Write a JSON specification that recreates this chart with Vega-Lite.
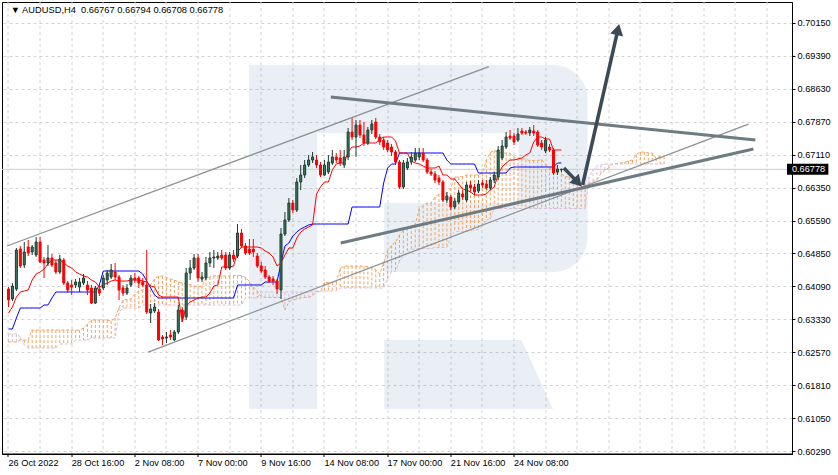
{
"$schema": "https://vega.github.io/schema/vega-lite/v6.json",
"width": 790, "height": 452,
"autosize": {"type": "none"},
"padding": {"left": 2, "top": 2, "right": 46, "bottom": 21},
"background": "white",
"config": {
 "font": "Liberation Sans",
 "view": {"stroke": "#000000", "strokeWidth": 1},
 "axis": {"domainColor": "#000000", "tickColor": "#000000", "labelColor": "#000000", "labelFont": "Liberation Sans", "labelFontSize": 9.2, "gridColor": "#d4d4d4", "gridDash": [3,3], "gridWidth": 1, "labelOverlap": false}
},
"datasets": {
"caption": [{"label": "▼ AUDUSD,H4\u00a0 0.66767 0.66794 0.66708 0.66778"}],
"logo": [
 {"part":"stem","x1":60.875,"x2":78.125,"p1":0.69177,"p2":0.61265},
 {"part":"top","x1":78.125,"x2":129.125,"p1":0.69177,"p2":0.67613},
 {"part":"bottom","x1":95.125,"x2":129.125,"p1":0.66003,"p2":0.64416},
 {"part":"bowl","x1":129.125,"x2":146.625,"p1":0.69177,"p2":0.64416}
],
"leg": [
 {"p":0.62852,"xa":95.125,"xb":129.875},
 {"p":0.61265,"xa":95.125,"xb":137.875}
],
"bid": [{"price": 0.66778}],
"lines": [
 {"id":"ch1","kind":"channel","u":-0.375,"p":0.65014},
 {"id":"ch1","kind":"channel","u":121.625,"p":0.69142},
 {"id":"ch2","kind":"channel","u":35.375,"p":0.62574},
 {"id":"ch2","kind":"channel","u":187.375,"p":0.67818},
 {"id":"tr1","kind":"triangle","u":81.625,"p":0.68441},
 {"id":"tr1","kind":"triangle","u":189.125,"p":0.67452},
 {"id":"tr2","kind":"triangle","u":84.125,"p":0.65083},
 {"id":"tr2","kind":"triangle","u":188.625,"p":0.67245},
 {"id":"up","kind":"arrow","u":145.375,"p":0.66417},
 {"id":"up","kind":"arrow","u":154.325,"p":0.69994},
 {"id":"down","kind":"arrow","u":140.625,"p":0.66808},
 {"id":"down","kind":"arrow","u":144.175,"p":0.66477}
],
"heads": [
 {"id":"up","u":154.325,"p":0.69994},
 {"id":"down","u":144.175,"p":0.66477}
],
"bars": [
{"k":0,"o":0.64025,"h":0.64071,"l":0.63611,"c":0.63772,"T":0.63473,"K":0.63105,"A":0.62806,"B":0.62990},
{"k":1,"o":0.63795,"h":0.64163,"l":0.63749,"c":0.64094,"T":0.63611,"K":0.63105,"A":0.62806,"B":0.62990},
{"k":2,"o":0.64025,"h":0.64968,"l":0.63979,"c":0.64922,"T":0.63841,"K":0.63358,"A":0.62806,"B":0.62990},
{"k":3,"o":0.64945,"h":0.65014,"l":0.64508,"c":0.64554,"T":0.63956,"K":0.63588,"A":0.62852,"B":0.62921},
{"k":4,"o":0.64577,"h":0.65106,"l":0.64508,"c":0.64876,"T":0.63979,"K":0.63588,"A":0.62852,"B":0.62737},
{"k":5,"o":0.64991,"h":0.65152,"l":0.64784,"c":0.64853,"T":0.64002,"K":0.63588,"A":0.62852,"B":0.62668},
{"k":6,"o":0.64876,"h":0.65037,"l":0.64807,"c":0.64991,"T":0.64232,"K":0.63588,"A":0.63082,"B":0.62668},
{"k":7,"o":0.64807,"h":0.65221,"l":0.64761,"c":0.65106,"T":0.64370,"K":0.63588,"A":0.63082,"B":0.62668},
{"k":8,"o":0.65106,"h":0.65221,"l":0.64623,"c":0.64646,"T":0.64416,"K":0.63588,"A":0.63082,"B":0.62668},
{"k":9,"o":0.64692,"h":0.64761,"l":0.64278,"c":0.64623,"T":0.64485,"K":0.63657,"A":0.63082,"B":0.62668},
{"k":10,"o":0.64623,"h":0.65037,"l":0.64554,"c":0.64738,"T":0.64600,"K":0.63657,"A":0.63082,"B":0.62668},
{"k":11,"o":0.64738,"h":0.64830,"l":0.64531,"c":0.64577,"T":0.64692,"K":0.63818,"A":0.63082,"B":0.62668},
{"k":12,"o":0.64623,"h":0.64692,"l":0.64370,"c":0.64416,"T":0.64692,"K":0.63956,"A":0.63082,"B":0.62668},
{"k":13,"o":0.64416,"h":0.64807,"l":0.64370,"c":0.64715,"T":0.64692,"K":0.63956,"A":0.63082,"B":0.62760},
{"k":14,"o":0.64692,"h":0.64738,"l":0.64117,"c":0.64163,"T":0.64623,"K":0.63956,"A":0.63082,"B":0.62760},
{"k":15,"o":0.64163,"h":0.64209,"l":0.63933,"c":0.64002,"T":0.64554,"K":0.63956,"A":0.63082,"B":0.62760},
{"k":16,"o":0.64117,"h":0.64232,"l":0.63887,"c":0.64071,"T":0.64508,"K":0.63956,"A":0.63082,"B":0.62760},
{"k":17,"o":0.64117,"h":0.64255,"l":0.64048,"c":0.64186,"T":0.64416,"K":0.63956,"A":0.63082,"B":0.62852},
{"k":18,"o":0.64071,"h":0.64278,"l":0.63956,"c":0.64186,"T":0.64370,"K":0.63956,"A":0.63082,"B":0.62852},
{"k":19,"o":0.64163,"h":0.64370,"l":0.64117,"c":0.64278,"T":0.64324,"K":0.63956,"A":0.63128,"B":0.62852},
{"k":20,"o":0.64117,"h":0.64209,"l":0.63887,"c":0.64002,"T":0.64301,"K":0.63956,"A":0.63220,"B":0.62852},
{"k":21,"o":0.64048,"h":0.64117,"l":0.63680,"c":0.63703,"T":0.64232,"K":0.63956,"A":0.63312,"B":0.62898},
{"k":22,"o":0.63703,"h":0.64094,"l":0.63680,"c":0.64048,"T":0.64186,"K":0.63956,"A":0.63312,"B":0.62898},
{"k":23,"o":0.64025,"h":0.64117,"l":0.63864,"c":0.63933,"T":0.64071,"K":0.64117,"A":0.63312,"B":0.62898},
{"k":24,"o":0.64048,"h":0.64347,"l":0.64002,"c":0.64278,"T":0.64117,"K":0.64439,"A":0.63312,"B":0.62898},
{"k":25,"o":0.64232,"h":0.64462,"l":0.64117,"c":0.64393,"T":0.64163,"K":0.64439,"A":0.63312,"B":0.62898},
{"k":26,"o":0.64301,"h":0.64600,"l":0.64255,"c":0.64462,"T":0.64209,"K":0.64439,"A":0.63289,"B":0.62898},
{"k":27,"o":0.64416,"h":0.64623,"l":0.64232,"c":0.64301,"T":0.64232,"K":0.64439,"A":0.63358,"B":0.62898},
{"k":28,"o":0.64301,"h":0.64347,"l":0.63772,"c":0.64002,"T":0.64209,"K":0.64439,"A":0.63600,"B":0.63496},
{"k":29,"o":0.64048,"h":0.64117,"l":0.63864,"c":0.63933,"T":0.64209,"K":0.64439,"A":0.63772,"B":0.63588},
{"k":30,"o":0.63933,"h":0.64140,"l":0.63887,"c":0.64048,"T":0.64209,"K":0.64439,"A":0.63783,"B":0.63588},
{"k":31,"o":0.64117,"h":0.64347,"l":0.64071,"c":0.64278,"T":0.64232,"K":0.64439,"A":0.63795,"B":0.63588},
{"k":32,"o":0.64278,"h":0.64393,"l":0.64163,"c":0.64232,"T":0.64232,"K":0.64439,"A":0.63910,"B":0.63588},
{"k":33,"o":0.64278,"h":0.64324,"l":0.64048,"c":0.64163,"T":0.64232,"K":0.64439,"A":0.63979,"B":0.63588},
{"k":34,"o":0.64186,"h":0.64278,"l":0.64071,"c":0.64117,"T":0.64209,"K":0.64370,"A":0.64002,"B":0.63657},
{"k":35,"o":0.64117,"h":0.64922,"l":0.63450,"c":0.63496,"T":0.64186,"K":0.64209,"A":0.64071,"B":0.63657},
{"k":36,"o":0.63473,"h":0.63680,"l":0.63243,"c":0.63565,"T":0.64094,"K":0.64048,"A":0.64129,"B":0.63657},
{"k":37,"o":0.63519,"h":0.63703,"l":0.63473,"c":0.63611,"T":0.64071,"K":0.63887,"A":0.64255,"B":0.63657},
{"k":38,"o":0.63496,"h":0.63565,"l":0.62829,"c":0.62852,"T":0.63887,"K":0.63818,"A":0.64324,"B":0.63657},
{"k":39,"o":0.62921,"h":0.62967,"l":0.62737,"c":0.62875,"T":0.63841,"K":0.63818,"A":0.64324,"B":0.63657},
{"k":40,"o":0.62898,"h":0.63036,"l":0.62783,"c":0.62921,"T":0.63841,"K":0.63818,"A":0.64290,"B":0.63657},
{"k":41,"o":0.62967,"h":0.63082,"l":0.62852,"c":0.62921,"T":0.63841,"K":0.63818,"A":0.64255,"B":0.63657},
{"k":42,"o":0.62852,"h":0.63082,"l":0.62829,"c":0.63036,"T":0.63841,"K":0.63818,"A":0.64232,"B":0.63657},
{"k":43,"o":0.63036,"h":0.63657,"l":0.62990,"c":0.63542,"T":0.63841,"K":0.63818,"A":0.64186,"B":0.63657},
{"k":44,"o":0.63542,"h":0.63611,"l":0.63266,"c":0.63358,"T":0.63266,"K":0.63818,"A":0.64163,"B":0.63657},
{"k":45,"o":0.63381,"h":0.64508,"l":0.63312,"c":0.64393,"T":0.63634,"K":0.63818,"A":0.64140,"B":0.63657},
{"k":46,"o":0.64393,"h":0.64692,"l":0.64232,"c":0.64508,"T":0.63726,"K":0.63818,"A":0.64129,"B":0.63657},
{"k":47,"o":0.64508,"h":0.64830,"l":0.64462,"c":0.64738,"T":0.63772,"K":0.63818,"A":0.64094,"B":0.63657},
{"k":48,"o":0.64738,"h":0.64830,"l":0.64186,"c":0.64278,"T":0.63818,"K":0.63818,"A":0.64071,"B":0.63657},
{"k":49,"o":0.64255,"h":0.64416,"l":0.64186,"c":0.64301,"T":0.63841,"K":0.63818,"A":0.64094,"B":0.63657},
{"k":50,"o":0.64278,"h":0.64761,"l":0.64232,"c":0.64623,"T":0.63841,"K":0.63818,"A":0.64278,"B":0.63657},
{"k":51,"o":0.64623,"h":0.64876,"l":0.64531,"c":0.64738,"T":0.63933,"K":0.63818,"A":0.64301,"B":0.63657},
{"k":52,"o":0.64738,"h":0.64922,"l":0.64508,"c":0.64761,"T":0.64094,"K":0.63818,"A":0.64324,"B":0.63657},
{"k":53,"o":0.64738,"h":0.64876,"l":0.64692,"c":0.64784,"T":0.64117,"K":0.63818,"A":0.64335,"B":0.63657},
{"k":54,"o":0.64807,"h":0.64922,"l":0.64692,"c":0.64738,"T":0.64531,"K":0.63818,"A":0.64324,"B":0.63657},
{"k":55,"o":0.64807,"h":0.64876,"l":0.64462,"c":0.64508,"T":0.64531,"K":0.63818,"A":0.64324,"B":0.63657},
{"k":56,"o":0.64508,"h":0.64876,"l":0.64462,"c":0.64807,"T":0.64531,"K":0.63818,"A":0.64324,"B":0.63657},
{"k":57,"o":0.64807,"h":0.64922,"l":0.64646,"c":0.64715,"T":0.64554,"K":0.63818,"A":0.64335,"B":0.63657},
{"k":58,"o":0.64784,"h":0.65520,"l":0.64738,"c":0.65313,"T":0.64876,"K":0.64117,"A":0.64335,"B":0.63657},
{"k":59,"o":0.65313,"h":0.65405,"l":0.64968,"c":0.65014,"T":0.64991,"K":0.64117,"A":0.64335,"B":0.63657},
{"k":60,"o":0.65014,"h":0.65083,"l":0.64807,"c":0.64853,"T":0.64991,"K":0.64117,"A":0.64290,"B":0.63818},
{"k":61,"o":0.64945,"h":0.65175,"l":0.64807,"c":0.64853,"T":0.64991,"K":0.64117,"A":0.64197,"B":0.63818},
{"k":62,"o":0.64945,"h":0.65175,"l":0.64761,"c":0.64876,"T":0.64991,"K":0.64117,"A":0.64071,"B":0.63818},
{"k":63,"o":0.64784,"h":0.64853,"l":0.64508,"c":0.64554,"T":0.64991,"K":0.64117,"A":0.63979,"B":0.63818},
{"k":64,"o":0.64554,"h":0.64646,"l":0.64393,"c":0.64439,"T":0.64968,"K":0.64117,"A":0.63853,"B":0.63956},
{"k":65,"o":0.64462,"h":0.64554,"l":0.64255,"c":0.64301,"T":0.64899,"K":0.64186,"A":0.63830,"B":0.63956},
{"k":66,"o":0.64301,"h":0.64347,"l":0.64163,"c":0.64209,"T":0.64853,"K":0.64186,"A":0.63830,"B":0.63956},
{"k":67,"o":0.64255,"h":0.64324,"l":0.64117,"c":0.64209,"T":0.64761,"K":0.64186,"A":0.63830,"B":0.63956},
{"k":68,"o":0.64209,"h":0.64255,"l":0.63910,"c":0.64025,"T":0.64554,"K":0.64186,"A":0.63830,"B":0.63956},
{"k":69,"o":0.64002,"h":0.65428,"l":0.63795,"c":0.65290,"T":0.64623,"K":0.64623,"A":0.63830,"B":0.63956},
{"k":70,"o":0.65290,"h":0.65796,"l":0.65244,"c":0.65612,"T":0.64807,"K":0.65014,"A":0.63542,"B":0.63956},
{"k":71,"o":0.65612,"h":0.66118,"l":0.65566,"c":0.66003,"T":0.64968,"K":0.65083,"A":0.63726,"B":0.63956},
{"k":72,"o":0.66003,"h":0.66072,"l":0.65773,"c":0.65842,"T":0.64968,"K":0.65244,"A":0.63772,"B":0.63956},
{"k":73,"o":0.65842,"h":0.66578,"l":0.65796,"c":0.66486,"T":0.65198,"K":0.65336,"A":0.63795,"B":0.63956},
{"k":74,"o":0.66486,"h":0.66877,"l":0.66302,"c":0.66647,"T":0.65336,"K":0.65405,"A":0.63818,"B":0.63956},
{"k":75,"o":0.66647,"h":0.66992,"l":0.66578,"c":0.66877,"T":0.65405,"K":0.65451,"A":0.63830,"B":0.63956},
{"k":76,"o":0.66877,"h":0.67107,"l":0.66831,"c":0.66992,"T":0.65451,"K":0.65497,"A":0.63830,"B":0.63956},
{"k":77,"o":0.66992,"h":0.67176,"l":0.66923,"c":0.67061,"T":0.65497,"K":0.65520,"A":0.63876,"B":0.63956},
{"k":78,"o":0.66992,"h":0.67107,"l":0.66808,"c":0.66877,"T":0.66210,"K":0.65520,"A":0.63956,"B":0.63979},
{"k":79,"o":0.66877,"h":0.66946,"l":0.66601,"c":0.66647,"T":0.66371,"K":0.65520,"A":0.63968,"B":0.63979},
{"k":80,"o":0.66647,"h":0.66992,"l":0.66624,"c":0.66877,"T":0.66486,"K":0.65520,"A":0.64175,"B":0.63979},
{"k":81,"o":0.66716,"h":0.67107,"l":0.66670,"c":0.66946,"T":0.66486,"K":0.65520,"A":0.64175,"B":0.63979},
{"k":82,"o":0.66923,"h":0.67222,"l":0.66877,"c":0.67061,"T":0.66762,"K":0.65520,"A":0.64175,"B":0.63979},
{"k":83,"o":0.67061,"h":0.67153,"l":0.66923,"c":0.66992,"T":0.66900,"K":0.65520,"A":0.64186,"B":0.63979},
{"k":84,"o":0.67038,"h":0.67222,"l":0.66854,"c":0.66923,"T":0.66923,"K":0.65520,"A":0.64497,"B":0.64048},
{"k":85,"o":0.66877,"h":0.67222,"l":0.66808,"c":0.67061,"T":0.66923,"K":0.65520,"A":0.64554,"B":0.64048},
{"k":86,"o":0.67061,"h":0.67728,"l":0.66992,"c":0.67636,"T":0.67176,"K":0.65520,"A":0.64554,"B":0.64048},
{"k":87,"o":0.67636,"h":0.67958,"l":0.67452,"c":0.67521,"T":0.67291,"K":0.65911,"A":0.64554,"B":0.64048},
{"k":88,"o":0.67521,"h":0.67912,"l":0.67061,"c":0.67797,"T":0.67291,"K":0.65911,"A":0.64554,"B":0.64048},
{"k":89,"o":0.67797,"h":0.67912,"l":0.67498,"c":0.67567,"T":0.67314,"K":0.65911,"A":0.64554,"B":0.64048},
{"k":90,"o":0.67567,"h":0.67866,"l":0.67314,"c":0.67383,"T":0.67383,"K":0.65911,"A":0.64543,"B":0.64048},
{"k":91,"o":0.67383,"h":0.67751,"l":0.67337,"c":0.67682,"T":0.67383,"K":0.65911,"A":0.64543,"B":0.64048},
{"k":92,"o":0.67682,"h":0.67912,"l":0.67590,"c":0.67820,"T":0.67383,"K":0.65911,"A":0.64520,"B":0.64048},
{"k":93,"o":0.67866,"h":0.67958,"l":0.67475,"c":0.67521,"T":0.67383,"K":0.65911,"A":0.64474,"B":0.64048},
{"k":94,"o":0.67521,"h":0.67590,"l":0.67337,"c":0.67406,"T":0.67475,"K":0.65911,"A":0.64370,"B":0.64048},
{"k":95,"o":0.67452,"h":0.67521,"l":0.67222,"c":0.67291,"T":0.67521,"K":0.66463,"A":0.64623,"B":0.64048},
{"k":96,"o":0.67383,"h":0.67452,"l":0.67176,"c":0.67222,"T":0.67521,"K":0.66808,"A":0.64910,"B":0.64267},
{"k":97,"o":0.67291,"h":0.67360,"l":0.67084,"c":0.67176,"T":0.67521,"K":0.66900,"A":0.65026,"B":0.64427},
{"k":98,"o":0.67176,"h":0.67222,"l":0.66877,"c":0.66946,"T":0.67429,"K":0.66900,"A":0.65106,"B":0.64427},
{"k":99,"o":0.66946,"h":0.66992,"l":0.66325,"c":0.66371,"T":0.67153,"K":0.67153,"A":0.65267,"B":0.64657},
{"k":100,"o":0.66371,"h":0.66992,"l":0.66325,"c":0.66923,"T":0.67153,"K":0.67153,"A":0.65371,"B":0.64807},
{"k":101,"o":0.66808,"h":0.67038,"l":0.66762,"c":0.66946,"T":0.67153,"K":0.67153,"A":0.65428,"B":0.64864},
{"k":102,"o":0.66946,"h":0.67176,"l":0.66877,"c":0.67061,"T":0.66969,"K":0.67153,"A":0.65474,"B":0.64922},
{"k":103,"o":0.66992,"h":0.67268,"l":0.66946,"c":0.67153,"T":0.66923,"K":0.67153,"A":0.65509,"B":0.64956},
{"k":104,"o":0.67061,"h":0.67268,"l":0.66992,"c":0.67153,"T":0.66900,"K":0.67153,"A":0.65865,"B":0.64956},
{"k":105,"o":0.67153,"h":0.67268,"l":0.66946,"c":0.66992,"T":0.66854,"K":0.67153,"A":0.65946,"B":0.64956},
{"k":106,"o":0.66992,"h":0.67038,"l":0.66670,"c":0.66716,"T":0.66808,"K":0.67153,"A":0.66003,"B":0.64956},
{"k":107,"o":0.66716,"h":0.66785,"l":0.66624,"c":0.66670,"T":0.66808,"K":0.67153,"A":0.66003,"B":0.64956},
{"k":108,"o":0.66670,"h":0.66739,"l":0.66463,"c":0.66532,"T":0.66808,"K":0.67153,"A":0.66141,"B":0.64979},
{"k":109,"o":0.66578,"h":0.66647,"l":0.66417,"c":0.66486,"T":0.66854,"K":0.67153,"A":0.66210,"B":0.64979},
{"k":110,"o":0.66486,"h":0.66532,"l":0.66026,"c":0.66072,"T":0.66647,"K":0.67153,"A":0.66222,"B":0.64979},
{"k":111,"o":0.66072,"h":0.66256,"l":0.66003,"c":0.66164,"T":0.66647,"K":0.66992,"A":0.66222,"B":0.64979},
{"k":112,"o":0.66141,"h":0.66187,"l":0.65842,"c":0.65911,"T":0.66555,"K":0.66900,"A":0.66348,"B":0.65232},
{"k":113,"o":0.65911,"h":0.66118,"l":0.65865,"c":0.66049,"T":0.66555,"K":0.66900,"A":0.66601,"B":0.65348},
{"k":114,"o":0.66026,"h":0.66302,"l":0.65980,"c":0.66233,"T":0.66440,"K":0.66900,"A":0.66601,"B":0.65348},
{"k":115,"o":0.66210,"h":0.66302,"l":0.66072,"c":0.66141,"T":0.66325,"K":0.66900,"A":0.66613,"B":0.65348},
{"k":116,"o":0.66072,"h":0.66486,"l":0.66026,"c":0.66417,"T":0.66302,"K":0.66900,"A":0.66647,"B":0.65348},
{"k":117,"o":0.66417,"h":0.66509,"l":0.66279,"c":0.66348,"T":0.66256,"K":0.66900,"A":0.66647,"B":0.65371},
{"k":118,"o":0.66371,"h":0.66440,"l":0.66187,"c":0.66256,"T":0.66187,"K":0.66900,"A":0.66647,"B":0.65394},
{"k":119,"o":0.66279,"h":0.66532,"l":0.66233,"c":0.66440,"T":0.66187,"K":0.66693,"A":0.66647,"B":0.65394},
{"k":120,"o":0.66463,"h":0.66532,"l":0.66348,"c":0.66417,"T":0.66187,"K":0.66693,"A":0.66693,"B":0.65474},
{"k":121,"o":0.66440,"h":0.66532,"l":0.66302,"c":0.66348,"T":0.66210,"K":0.66693,"A":0.66992,"B":0.65612},
{"k":122,"o":0.66348,"h":0.66601,"l":0.66302,"c":0.66532,"T":0.66302,"K":0.66693,"A":0.67165,"B":0.65635},
{"k":123,"o":0.66532,"h":0.66716,"l":0.66463,"c":0.66647,"T":0.66371,"K":0.66693,"A":0.67211,"B":0.65877},
{"k":124,"o":0.66601,"h":0.67314,"l":0.66532,"c":0.67222,"T":0.66670,"K":0.66693,"A":0.67165,"B":0.65877},
{"k":125,"o":0.67038,"h":0.67452,"l":0.66992,"c":0.67314,"T":0.66831,"K":0.66693,"A":0.67153,"B":0.65877},
{"k":126,"o":0.67291,"h":0.67636,"l":0.67245,"c":0.67521,"T":0.66923,"K":0.66693,"A":0.67153,"B":0.65877},
{"k":127,"o":0.67544,"h":0.67682,"l":0.67452,"c":0.67498,"T":0.66992,"K":0.66808,"A":0.67153,"B":0.65877},
{"k":128,"o":0.67544,"h":0.67613,"l":0.67337,"c":0.67406,"T":0.66992,"K":0.66831,"A":0.67061,"B":0.65877},
{"k":129,"o":0.67452,"h":0.67728,"l":0.67406,"c":0.67590,"T":0.67015,"K":0.66831,"A":0.67038,"B":0.65877},
{"k":130,"o":0.67659,"h":0.67728,"l":0.67567,"c":0.67613,"T":0.67038,"K":0.66831,"A":0.67027,"B":0.65877},
{"k":131,"o":0.67636,"h":0.67682,"l":0.67567,"c":0.67613,"T":0.67107,"K":0.66831,"A":0.67004,"B":0.65877},
{"k":132,"o":0.67613,"h":0.67751,"l":0.67544,"c":0.67682,"T":0.67153,"K":0.66831,"A":0.66981,"B":0.65877},
{"k":133,"o":0.67659,"h":0.67797,"l":0.67544,"c":0.67613,"T":0.67406,"K":0.66831,"A":0.66981,"B":0.65877},
{"k":134,"o":0.67636,"h":0.67682,"l":0.67291,"c":0.67337,"T":0.67521,"K":0.66831,"A":0.66981,"B":0.65877},
{"k":135,"o":0.67383,"h":0.67452,"l":0.67222,"c":0.67291,"T":0.67521,"K":0.66831,"A":0.67004,"B":0.65877},
{"k":136,"o":0.67199,"h":0.67521,"l":0.67153,"c":0.67452,"T":0.67475,"K":0.66831,"A":0.66900,"B":0.65877},
{"k":137,"o":0.67291,"h":0.67360,"l":0.67176,"c":0.67222,"T":0.67475,"K":0.66831,"A":0.66820,"B":0.65877},
{"k":138,"o":0.67222,"h":0.67268,"l":0.66647,"c":0.66693,"T":0.67222,"K":0.66831,"A":0.66728,"B":0.65877},
{"k":139,"o":0.66716,"h":0.66877,"l":0.66647,"c":0.66785,"T":0.67222,"K":0.66923,"A":0.66728,"B":0.65877},
{"k":140,"o":0.66767,"h":0.66794,"l":0.66708,"c":0.66778,"T":0.67222,"K":0.66923,"A":0.66670,"B":0.65877},
{"k":141,"A":0.66613,"B":0.65877},
{"k":142,"A":0.66601,"B":0.65877},
{"k":143,"A":0.66578,"B":0.65877},
{"k":144,"A":0.66544,"B":0.65877},
{"k":145,"A":0.66440,"B":0.65877},
{"k":146,"A":0.66440,"B":0.65877},
{"k":147,"A":0.66452,"B":0.66601},
{"k":148,"A":0.66498,"B":0.66762},
{"k":149,"A":0.66532,"B":0.66866},
{"k":150,"A":0.66682,"B":0.66877},
{"k":151,"A":0.66762,"B":0.66900},
{"k":152,"A":0.66808,"B":0.66900},
{"k":153,"A":0.66900,"B":0.66900},
{"k":154,"A":0.66912,"B":0.66900},
{"k":155,"A":0.66923,"B":0.66900},
{"k":156,"A":0.66935,"B":0.66900},
{"k":157,"A":0.66969,"B":0.66900},
{"k":158,"A":0.66992,"B":0.66900},
{"k":159,"A":0.67119,"B":0.66900},
{"k":160,"A":0.67176,"B":0.66900},
{"k":161,"A":0.67176,"B":0.66900},
{"k":162,"A":0.67153,"B":0.66900},
{"k":163,"A":0.67153,"B":0.66900},
{"k":164,"A":0.67027,"B":0.66900},
{"k":165,"A":0.67073,"B":0.66900},
{"k":166,"A":0.67073,"B":0.66900}
]
},
"layer": [
{
 "data": {"name": "logo"},
 "transform": [{"filter": "datum.part != 'bowl'"}],
 "mark": {"type": "rect", "color": "#2d5f9b", "opacity": 0.1},
 "encoding": {
  "x": {"field": "x1", "type": "quantitative", "scale": {"domain": [-0.375, 197.125], "nice": false, "zero": false},
   "axis": {"title": null, "tickCount": 60, "values": [0,8,16,24,32,40,48,56,64,72,80,88,96,104,112,120,128,136,144,152,160,168,176,184,192],
    "labelExpr": "datum.value == 0 ? '26 Oct 2022' : datum.value == 16 ? '28 Oct 16:00' : datum.value == 32 ? '2 Nov 08:00' : datum.value == 48 ? '7 Nov 00:00' : datum.value == 64 ? '9 Nov 16:00' : datum.value == 80 ? '14 Nov 08:00' : datum.value == 96 ? '17 Nov 00:00' : datum.value == 112 ? '21 Nov 16:00' : datum.value == 128 ? '24 Nov 08:00' : ''",
    "labelAlign": "left", "labelPadding": 2, "labelFlush": false, "labelOverlap": false, "tickSize": 3,
    "tickOpacity": {"condition": {"test": "datum.value % 16 === 0 && datum.value <= 128", "value": 1}, "value": 0},
    "grid": true, "translate": 0}},
  "x2": {"field": "x2"},
  "y": {"field": "p1", "type": "quantitative", "scale": {"domain": [0.60230, 0.70626], "nice": false, "zero": false},
   "axis": {"title": null, "orient": "right", "format": ".5f", "tickCount": 60,
    "values": [0.6029, 0.6105, 0.6181, 0.6257, 0.6333, 0.6409, 0.6485, 0.6559, 0.6635, 0.6711, 0.6787, 0.6863, 0.6939, 0.7015],
    "labelOverlap": false, "labelFlush": false, "grid": true, "tickSize": 3, "labelPadding": 2}},
  "y2": {"field": "p2"}
 }
},
{
 "data": {"name": "logo"},
 "transform": [{"filter": "datum.part == 'bowl'"}],
 "mark": {"type": "rect", "color": "#2d5f9b", "opacity": 0.1, "cornerRadiusTopRight": 70, "cornerRadiusBottomRight": 70},
 "encoding": {
  "x": {"field": "x1", "type": "quantitative", "scale": {"domain": [-0.375, 197.125], "nice": false, "zero": false}},
  "x2": {"field": "x2"},
  "y": {"field": "p1", "type": "quantitative", "scale": {"domain": [0.60230, 0.70626], "nice": false, "zero": false}},
  "y2": {"field": "p2"}
 }
},
{
 "data": {"name": "leg"},
 "mark": {"type": "area", "orient": "horizontal", "color": "#2d5f9b", "opacity": 0.1},
 "encoding": {
  "y": {"field": "p", "type": "quantitative", "scale": {"domain": [0.60230, 0.70626], "nice": false, "zero": false}},
  "x": {"field": "xa", "type": "quantitative", "scale": {"domain": [-0.375, 197.125], "nice": false, "zero": false}},
  "x2": {"field": "xb"}
 }
},
{
 "data": {"name": "bid"},
 "mark": {"type": "rule", "stroke": "#cccccc", "strokeWidth": 1},
 "encoding": {
  "y": {"field": "price", "type": "quantitative", "scale": {"domain": [0.60230, 0.70626], "nice": false, "zero": false}}
 }
},
{
 "data": {"name": "bars"},
 "mark": {"type": "rule", "strokeWidth": 1, "strokeDash": [3,2], "clip": true},
 "encoding": {
  "x": {"field": "k", "type": "quantitative", "scale": {"domain": [-0.375, 197.125], "nice": false, "zero": false}},
  "y": {"field": "A", "type": "quantitative", "scale": {"domain": [0.60230, 0.70626], "nice": false, "zero": false}},
  "y2": {"field": "B"},
  "stroke": {"condition": {"test": "datum.A >= datum.B", "value": "#f4a460"}, "value": "#d8bfd8"}
 }
},
{
 "data": {"name": "bars"},
 "mark": {"type": "line", "stroke": "#f4a460", "strokeWidth": 1, "strokeDash": [3,2], "clip": true},
 "encoding": {
  "x": {"field": "k", "type": "quantitative", "scale": {"domain": [-0.375, 197.125], "nice": false, "zero": false}},
  "y": {"field": "A", "type": "quantitative", "scale": {"domain": [0.60230, 0.70626], "nice": false, "zero": false}}
 }
},
{
 "data": {"name": "bars"},
 "mark": {"type": "line", "stroke": "#d8bfd8", "strokeWidth": 1, "strokeDash": [3,2], "clip": true},
 "encoding": {
  "x": {"field": "k", "type": "quantitative", "scale": {"domain": [-0.375, 197.125], "nice": false, "zero": false}},
  "y": {"field": "B", "type": "quantitative", "scale": {"domain": [0.60230, 0.70626], "nice": false, "zero": false}}
 }
},
{
 "data": {"name": "bars"},
 "transform": [{"filter": "isValid(datum.K)"}],
 "mark": {"type": "line", "stroke": "#0000ff", "strokeWidth": 1, "clip": true},
 "encoding": {
  "x": {"field": "k", "type": "quantitative", "scale": {"domain": [-0.375, 197.125], "nice": false, "zero": false}},
  "y": {"field": "K", "type": "quantitative", "scale": {"domain": [0.60230, 0.70626], "nice": false, "zero": false}}
 }
},
{
 "data": {"name": "bars"},
 "transform": [{"filter": "isValid(datum.T)"}],
 "mark": {"type": "line", "stroke": "#ff0000", "strokeWidth": 1, "clip": true},
 "encoding": {
  "x": {"field": "k", "type": "quantitative", "scale": {"domain": [-0.375, 197.125], "nice": false, "zero": false}},
  "y": {"field": "T", "type": "quantitative", "scale": {"domain": [0.60230, 0.70626], "nice": false, "zero": false}}
 }
},
{
 "data": {"name": "bars"},
 "transform": [{"filter": "isValid(datum.o)"}],
 "mark": {"type": "rule", "strokeWidth": 1, "clip": true},
 "encoding": {
  "x": {"field": "k", "type": "quantitative", "scale": {"domain": [-0.375, 197.125], "nice": false, "zero": false}},
  "y": {"field": "h", "type": "quantitative", "scale": {"domain": [0.60230, 0.70626], "nice": false, "zero": false}},
  "y2": {"field": "l"},
  "stroke": {"condition": {"test": "datum.c >= datum.o", "value": "#1c3b30"}, "value": "#ff0000"}
 }
},
{
 "data": {"name": "bars"},
 "transform": [{"filter": "isValid(datum.o)"}],
 "mark": {"type": "bar", "size": 2, "strokeWidth": 1, "clip": true},
 "encoding": {
  "x": {"field": "k", "type": "quantitative", "scale": {"domain": [-0.375, 197.125], "nice": false, "zero": false}},
  "y": {"field": "o", "type": "quantitative", "scale": {"domain": [0.60230, 0.70626], "nice": false, "zero": false}},
  "y2": {"field": "c"},
  "fill": {"condition": {"test": "datum.c >= datum.o", "value": "#3b7b5f"}, "value": "#ff0000"},
  "stroke": {"condition": {"test": "datum.c >= datum.o", "value": "#1c3b30"}, "value": "#ff0000"}
 }
},
{
 "data": {"name": "lines"},
 "transform": [{"filter": "datum.kind == 'channel'"}],
 "mark": {"type": "line", "stroke": "#8c9297", "strokeWidth": 1.3, "clip": true},
 "encoding": {
  "x": {"field": "u", "type": "quantitative", "scale": {"domain": [-0.375, 197.125], "nice": false, "zero": false}},
  "y": {"field": "p", "type": "quantitative", "scale": {"domain": [0.60230, 0.70626], "nice": false, "zero": false}},
  "detail": {"field": "id"}
 }
},
{
 "data": {"name": "lines"},
 "transform": [{"filter": "datum.kind == 'triangle'"}],
 "mark": {"type": "line", "stroke": "#6f7b83", "strokeWidth": 3, "clip": true},
 "encoding": {
  "x": {"field": "u", "type": "quantitative", "scale": {"domain": [-0.375, 197.125], "nice": false, "zero": false}},
  "y": {"field": "p", "type": "quantitative", "scale": {"domain": [0.60230, 0.70626], "nice": false, "zero": false}},
  "detail": {"field": "id"}
 }
},
{
 "data": {"name": "lines"},
 "transform": [{"filter": "datum.kind == 'arrow'"}],
 "mark": {"type": "line", "stroke": "#3c4a55", "strokeWidth": 3.5, "clip": true},
 "encoding": {
  "x": {"field": "u", "type": "quantitative", "scale": {"domain": [-0.375, 197.125], "nice": false, "zero": false}},
  "y": {"field": "p", "type": "quantitative", "scale": {"domain": [0.60230, 0.70626], "nice": false, "zero": false}},
  "detail": {"field": "id"}
 }
},
{
 "data": {"name": "heads"},
 "transform": [{"filter": "datum.id == 'up'"}],
 "mark": {"type": "point", "shape": "triangle-up", "filled": true, "size": 170, "angle": 12.8, "color": "#3c4a55", "opacity": 1},
 "encoding": {
  "x": {"field": "u", "type": "quantitative", "scale": {"domain": [-0.375, 197.125], "nice": false, "zero": false}},
  "y": {"field": "p", "type": "quantitative", "scale": {"domain": [0.60230, 0.70626], "nice": false, "zero": false}}
 }
},
{
 "data": {"name": "heads"},
 "transform": [{"filter": "datum.id == 'down'"}],
 "mark": {"type": "point", "shape": "triangle-up", "filled": true, "size": 170, "angle": 136.7, "color": "#3c4a55", "opacity": 1},
 "encoding": {
  "x": {"field": "u", "type": "quantitative", "scale": {"domain": [-0.375, 197.125], "nice": false, "zero": false}},
  "y": {"field": "p", "type": "quantitative", "scale": {"domain": [0.60230, 0.70626], "nice": false, "zero": false}}
 }
},
{
 "data": {"name": "bid"},
 "mark": {"type": "rule", "stroke": "#000000", "strokeWidth": 11, "clip": false},
 "encoding": {
  "x": {"datum": 197.125, "type": "quantitative", "scale": {"domain": [-0.375, 197.125], "nice": false, "zero": false}},
  "x2": {"datum": 207.6},
  "y": {"field": "price", "type": "quantitative", "scale": {"domain": [0.60230, 0.70626], "nice": false, "zero": false}}
 }
},
{
 "data": {"name": "bid"},
 "mark": {"type": "text", "color": "#ffffff", "align": "left", "baseline": "middle", "font": "Liberation Sans", "fontSize": 9.2, "clip": false},
 "encoding": {
  "x": {"datum": 198.375, "type": "quantitative", "scale": {"domain": [-0.375, 197.125], "nice": false, "zero": false}},
  "y": {"field": "price", "type": "quantitative", "scale": {"domain": [0.60230, 0.70626], "nice": false, "zero": false}},
  "text": {"field": "price", "type": "quantitative", "format": ".5f"}
 }
},
{
 "data": {"name": "caption"},
 "mark": {"type": "text", "color": "#000000", "align": "left", "baseline": "alphabetic", "font": "Liberation Sans", "fontSize": 9.3, "clip": false},
 "encoding": {
  "x": {"datum": 0.6, "type": "quantitative", "scale": {"domain": [-0.375, 197.125], "nice": false, "zero": false}},
  "y": {"datum": 0.70366, "type": "quantitative", "scale": {"domain": [0.60230, 0.70626], "nice": false, "zero": false}},
  "text": {"field": "label"}
 }
}
]
}
